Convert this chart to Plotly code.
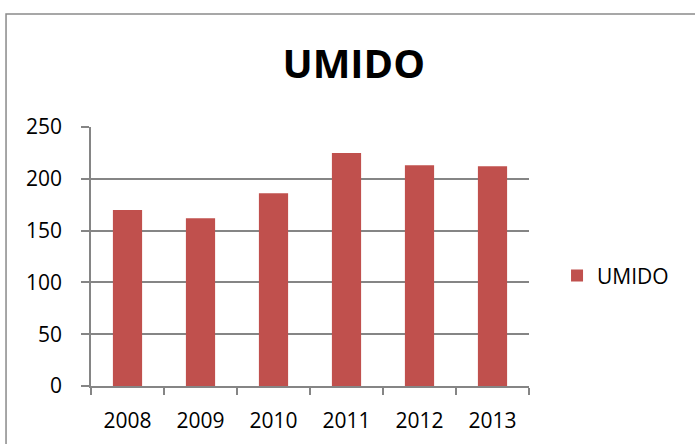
import plotly.graph_objects as go

years = ["2008", "2009", "2010", "2011", "2012", "2013"]
umido = [170, 162, 186, 225, 213, 212]

GRID = "#858585"
FONT = "Open Sans"

fig = go.Figure(
    go.Bar(
        x=years,
        y=umido,
        name="UMIDO",
        marker={"color": "#C0504D", "line": {"width": 0}},
    )
)

fig.update_layout(
    width=695,
    height=444,
    margin=dict(l=91, r=166, t=127, b=58, autoexpand=False),
    paper_bgcolor="white",
    plot_bgcolor="white",
    bargap=0.6,
    font={"family": FONT, "size": 21, "color": "black"},
    title={
        "text": "<b>UMIDO</b>",
        "font": {"family": FONT, "size": 40, "color": "black"},
        "xref": "container",
        "yref": "container",
        "x": 0.509,
        "y": 0.855,
        "xanchor": "center",
        "yanchor": "middle",
    },
    showlegend=True,
    legend={
        "x": 1.064,
        "y": 0.425,
        "xanchor": "left",
        "yanchor": "middle",
        "font": {"family": FONT, "size": 21, "color": "black"},
        "bgcolor": "rgba(0,0,0,0)",
    },
    shapes=[
        # outer chart border, runs off the right and bottom edges
        dict(
            type="rect",
            xref="paper",
            yref="paper",
            x0=-0.194,
            x1=2.0,
            y0=-1.0,
            y1=1.436,
            line={"color": "#8a8a8a", "width": 1.5},
            fillcolor="rgba(0,0,0,0)",
            layer="below",
        )
    ],
)

fig.update_xaxes(
    type="category",
    automargin=False,
    showgrid=False,
    showline=True,
    linecolor=GRID,
    linewidth=1.5,
    ticks="outside",
    tickson="boundaries",
    ticklen=7,
    tickcolor=GRID,
    tickwidth=1.5,
    ticklabelstandoff=15,
)

fig.update_yaxes(
    range=[0, 250],
    dtick=50,
    automargin=False,
    showgrid=True,
    gridcolor=GRID,
    gridwidth=1.5,
    showline=True,
    linecolor=GRID,
    linewidth=1.5,
    ticks="outside",
    ticklen=8,
    tickcolor=GRID,
    tickwidth=1.5,
    ticklabelstandoff=15,
    zeroline=False,
)

fig.write_html(
    "out.html",
    config={"displayModeBar": False},
    post_script="document.body.style.margin='0';",
)
